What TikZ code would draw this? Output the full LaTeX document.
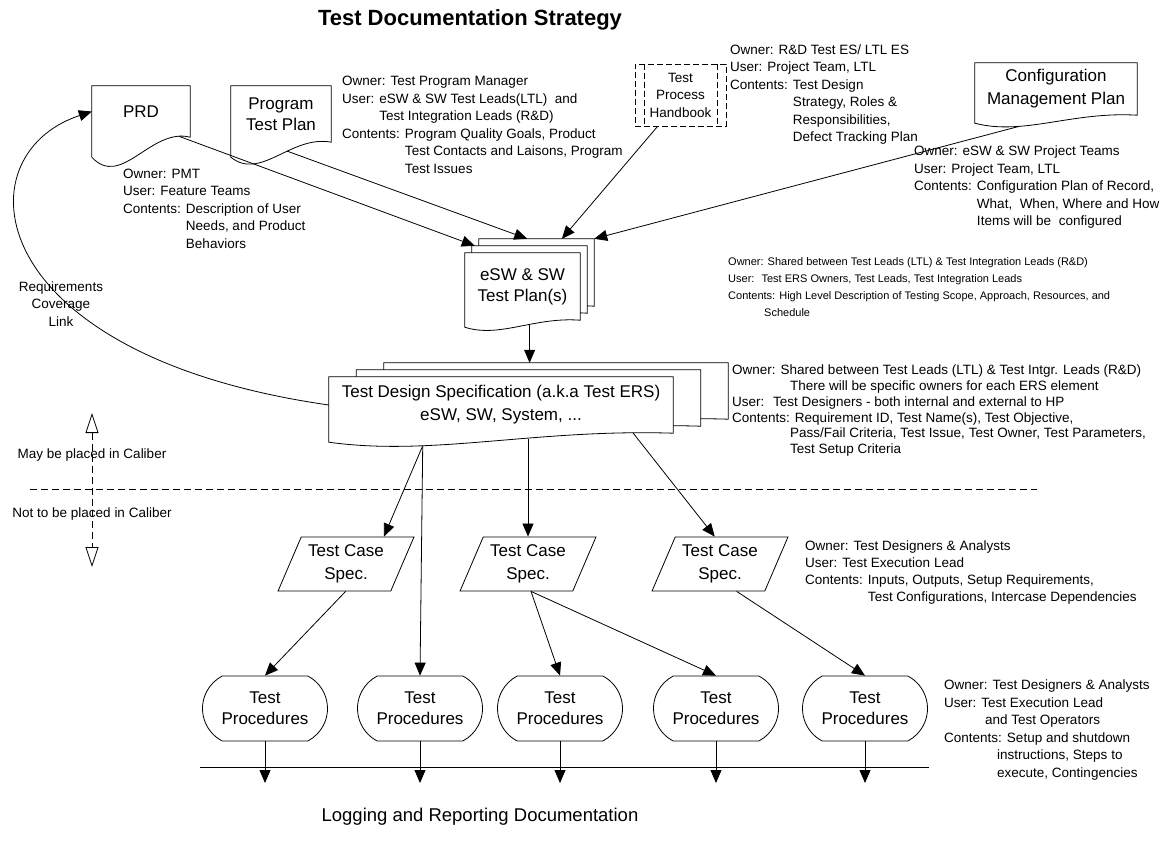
\documentclass[tikz,border=0pt]{standalone}
\usepackage{fontspec}
\setmainfont{Liberation Sans}
\usetikzlibrary{arrows.meta,calc,backgrounds,shapes.geometric,shapes.misc}

\newcommand{\docshape}[2]{%
  \begin{scope}[on background layer]
  \draw[docline] (#1.north west) -- (#1.north east) -- (#1.south east)
    .. controls ([yshift=#2*0.5pt]$(#1.south west)!0.6!(#1.south east)$)
    and ([yshift=-#2*2.6pt]$(#1.south west)!0.3!(#1.south east)$)
    .. ([yshift=-#2pt]#1.south west)
    coordinate[pos=0.1] (#1-a) coordinate[pos=0.4] (#1-b) coordinate[pos=0.7] (#1-c)
    -- cycle;
  \end{scope}}

\begin{document}
\begin{tikzpicture}[x=1pt,y=-1pt,
  every node/.style={inner sep=0pt},
  docnode/.style={align=center,font=\fontsize{17}{21}\selectfont},
  info/.style={anchor=north west,align=left,font=\fontsize{13.5}{17.5}\selectfont},
  smalltext/.style={align=center,font=\fontsize{13.5}{17.5}\selectfont},
  thinline/.style={line width=0.8pt},
  docline/.style={draw,fill=white,thinline},
  arr/.style={thinline,-{Triangle[length=13pt,width=11pt]}},
  spec/.style={docnode,draw,thinline,trapezium,trapezium left angle=63,trapezium right angle=117,trapezium stretches=true,minimum width=136pt,minimum height=54pt,font=\fontsize{17}{23}\selectfont},
  proc/.style={docnode,draw,thinline,rounded rectangle,rounded rectangle arc length=125,minimum width=125pt,minimum height=65pt},
  hbook/.style={smalltext,draw,thinline,dash pattern=on 6pt off 3pt,minimum width=91pt,minimum height=62pt},
  divider/.style={thinline,dash pattern=on 7pt off 4pt}]
\useasboundingbox (0,0) rectangle (1166,840);

\node[font=\bfseries\fontsize{22}{26}\selectfont] (title) at (470,20) {Test Documentation Strategy};

\node[docnode,minimum width=98pt,minimum height=51pt] (prd) at (141,111.5) {PRD};
\node[docnode,minimum width=100pt,minimum height=56pt] (ptp) at (281,114) {Program\\Test Plan};
\node[hbook] (hb) at (680.5,95) {Test\\Process\\Handbook};
\node[docnode,minimum width=162pt,minimum height=52pt,font=\fontsize{17}{23}\selectfont] (cmp) at (1056,89) {Configuration\\Management Plan};
\node[minimum width=115pt,minimum height=67pt] (plan3) at (536.5,272.5) {};
\node[minimum width=115pt,minimum height=67pt] (plan2) at (529.5,279.5) {};
\node[docnode,minimum width=115pt,minimum height=67pt] (plan) at (522.5,286.5) {eSW \& SW\\Test Plan(s)};
\node[minimum width=344pt,minimum height=56pt] (tds3) at (556,391) {};
\node[minimum width=344pt,minimum height=56pt] (tds2) at (528.5,398) {};
\node[docnode,minimum width=344pt,minimum height=56pt,font=\fontsize{17}{23}\selectfont] (tds) at (501,405) {Test Design Specification (a.k.a Test ERS)\\eSW, SW, System, ...};

\docshape{prd}{20}
\docshape{ptp}{15}
\docshape{cmp}{8}
\docshape{plan3}{7}
\docshape{plan2}{7}
\docshape{plan}{7}
\docshape{tds3}{9}
\docshape{tds2}{9}
\docshape{tds}{9}

\draw[thinline,dash pattern=on 6pt off 3pt] ([xshift=10pt]hb.north west) -- ([xshift=10pt]hb.south west)
  ([xshift=-9pt]hb.north east) -- ([xshift=-9pt]hb.south east);

\node[spec] (spec1) at (346,564) {Test Case\\Spec.};
\node[spec] (spec2) at (528,564) {Test Case\\Spec.};
\node[spec] (spec3) at (720,564) {Test Case\\Spec.};

\foreach \i/\x in {1/265,2/420,3/560,4/716,5/865}
  \node[proc] (p\i) at (\x,708.5) {Test\\Procedures};

\node[info] (prd-info) at (123,168.5) {Owner: PMT\\User: Feature Teams\\Contents: Description of User\\\hphantom{Contents: }Needs, and Product\\\hphantom{Contents: }Behaviors};
\node[info] (ptp-info) at (342,76) {Owner: Test Program Manager\\User: eSW \& SW Test Leads(LTL)~ and\\\hphantom{User: }Test Integration Leads (R\&D)\\Contents: Program Quality Goals, Product\\\hphantom{Contents: }Test Contacts and Laisons, Program\\\hphantom{Contents: }Test Issues};
\node[info] (hb-info) at (730,44.5) {Owner: R\&D Test ES/ LTL ES\\User: Project Team, LTL\\Contents: Test Design\\\hphantom{Contents: }Strategy, Roles \&\\\hphantom{Contents: }Responsibilities,\\\hphantom{Contents: }Defect Tracking Plan};
\node[info] (cmp-info) at (914,146) {Owner: eSW \& SW Project Teams\\User: Project Team, LTL\\Contents: Configuration Plan of Record,\\\hphantom{Contents: }What,~ When, Where and How\\\hphantom{Contents: }Items will be~ configured};
\node[info,font=\fontsize{11}{17}\selectfont] (plan-info) at (728,257.5) {Owner: Shared between Test Leads (LTL) \& Test Integration Leads (R\&D)\\User:~ Test ERS Owners, Test Leads, Test Integration Leads\\Contents: High Level Description of Testing Scope, Approach, Resources, and\\\hspace*{36pt}Schedule};
\node[info,font=\fontsize{13.5}{15.7}\selectfont] (tds-info) at (732,365) {Owner: Shared between Test Leads (LTL) \& Test Intgr. Leads (R\&D)\\\hspace*{58pt}There will be specific owners for each ERS element\\User:~ Test Designers - both internal and external to HP\\Contents: Requirement ID, Test Name(s), Test Objective,\\\hspace*{58pt}Pass/Fail Criteria, Test Issue, Test Owner, Test Parameters,\\\hspace*{58pt}Test Setup Criteria};
\node[info,font=\fontsize{13.5}{16.7}\selectfont] (spec-info) at (805,541) {Owner: Test Designers \& Analysts\\User: Test Execution Lead\\Contents: Inputs, Outputs, Setup Requirements,\\\hphantom{Contents: }Test Configurations, Intercase Dependencies};
\node[info] (proc-info) at (944,680) {Owner: Test Designers \& Analysts\\User: Test Execution Lead\\\hspace*{41pt}and Test Operators\\Contents: Setup and shutdown\\\hspace*{53pt}instructions, Steps to\\\hspace*{53pt}execute, Contingencies};

\node[smalltext] (rcl) at (61,304) {Requirements\\Coverage\\Link};
\node[smalltext] (may) at (92,455) {May be placed in Caliber};
\node[smalltext] (nott) at (92,514) {Not to be placed in Caliber};
\node[docnode,font=\fontsize{18.5}{22}\selectfont] (log) at (480,817) {Logging and Reporting Documentation};

\coordinate (cal-up) at (92,413);
\coordinate (cal-dn) at (92,567);
\coordinate (div-w) at (30,489);
\coordinate (div-e) at (1037,489);
\coordinate (log-w) at (200,767);
\coordinate (log-e) at (929,767);
\coordinate (out) at (0,783);

\draw[divider] (div-w) -- (div-e);
\draw[divider,{Triangle[open,length=20pt,width=13pt]}-{Triangle[open,length=20pt,width=13pt]}] (cal-up) -- (cal-dn);
\draw[thinline] (log-w) -- (log-e);

\path[arr] (prd-a) edge ([xshift=3pt]plan2.north west)
  (ptp-b) edge ($(plan3.north west)!0.42!(plan3.north east)$)
  ($(hb.south west)!0.25!(hb.south east)$) edge ($(plan3.north west)!0.72!(plan3.north east)$)
  (cmp-c) edge (plan3.north east)
  (plan-b) edge (plan-b |- tds3.north)
  (tds-c) edge ($(spec1.top left corner)!0.73!(spec1.top right corner)$)
  (tds-c) edge (p2.north)
  (spec2.north |- tds-b) edge (spec2.north)
  (tds-a) edge ($(spec3.top left corner)!0.35!(spec3.top right corner)$)
  ($(spec1.bottom left corner)!0.6!(spec1.bottom right corner)$) edge (p1.north)
  ($(spec2.bottom left corner)!0.63!(spec2.bottom right corner)$) edge (p3.north)
  ($(spec2.bottom left corner)!0.63!(spec2.bottom right corner)$) edge (p4.north)
  ($(spec3.bottom left corner)!0.75!(spec3.bottom right corner)$) edge (p5.north);

\foreach \i in {1,...,5}
  \draw[arr] (p\i.south) -- (p\i.south |- out);

\draw[arr] (tds.west) .. controls (-20,355) and (-40,155) .. (prd.west);
\end{tikzpicture}
\end{document}
